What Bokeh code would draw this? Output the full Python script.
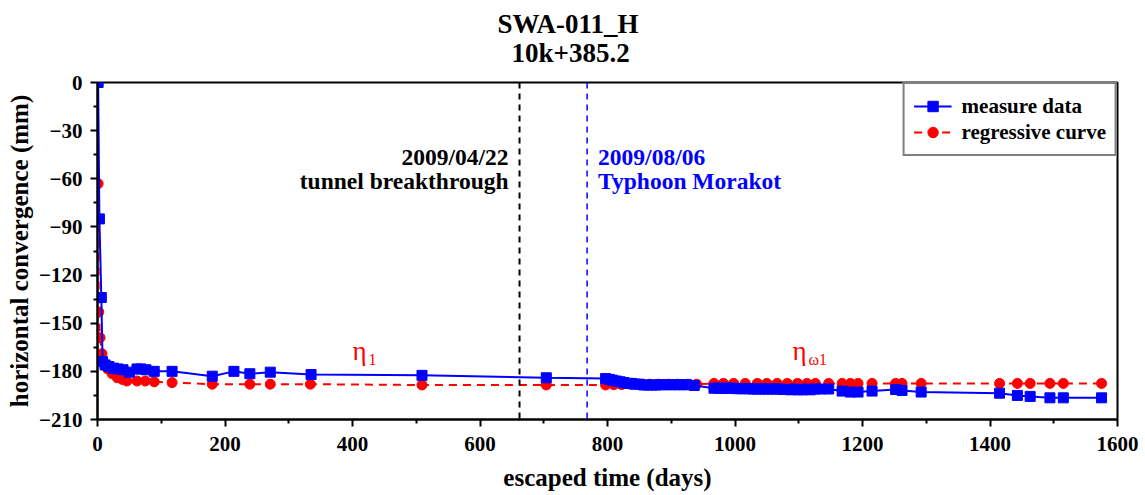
from bokeh.plotting import figure
from bokeh.layouts import column
from bokeh.models import Range1d, Label, Span, Legend, LegendItem, FixedTicker
from bokeh.embed import file_html
from bokeh.resources import INLINE

# ---------------- data ----------------
measure_days = [1, 3, 6, 8, 12, 18, 25, 32, 40, 50, 62, 68, 76, 89, 117, 180, 214, 239, 271, 335,
                509, 704, 797, 803, 808, 814, 820, 826, 832, 838, 844, 850, 857, 863, 870, 876,
                882, 888, 894, 900, 906, 912, 918, 924, 936, 967, 974, 980, 986, 992, 998, 1004,
                1010, 1016, 1022, 1028, 1034, 1040, 1046, 1052, 1058, 1064, 1070, 1076, 1082, 1088,
                1094, 1100, 1106, 1112, 1118, 1126, 1134, 1147, 1168, 1181, 1193, 1215, 1252, 1262,
                1292, 1415, 1443, 1463, 1494, 1515, 1575]
measure_mm = [0, -85, -134, -174, -176, -177, -178, -178.5, -179, -180.5, -178.5, -178.5, -179, -180,
              -180, -183, -180, -181.5, -180.5, -182, -182.5, -184, -184.5, -185, -185.5, -186,
              -186.5, -187, -187.5, -187.5, -188, -188, -188.5, -188.5, -188.5, -188.5, -188.3,
              -188.3, -188.3, -188.3, -188.3, -188.3, -188.3, -188.3, -188.8, -190.5, -190.5,
              -190.5, -190.5, -190.5, -190.5, -190.8, -190.8, -190.8, -190.8, -191, -191, -191,
              -191, -191, -191, -191, -191, -191.3, -191.3, -191.5, -191, -191.5, -191.5, -191,
              -191.5, -191, -191, -191, -192.3, -192.9, -192.9, -192.3, -191.3, -191.9, -192.9,
              -193.6, -195, -195.6, -196.5, -196.5, -196.5]

regress_days = [1, 2, 4, 7, 11, 16, 23, 31, 39, 46, 62, 75, 89, 117, 180, 239, 271, 334, 509, 704,
                797, 810, 822, 836, 850, 866, 880, 896, 910, 926, 940, 967, 982, 998, 1016, 1035,
                1050, 1066, 1082, 1098, 1113, 1126, 1147, 1168, 1181, 1193, 1215, 1252, 1262, 1292,
                1415, 1443, 1463, 1494, 1515, 1575]
regress_mm = [-63, -143, -159, -169, -175, -178.5, -181.5, -184, -185, -186,
              -186, -186, -186.5, -187, -188, -188, -188, -188, -188.5, -188.5,
              -188.5, -188.3, -188.2, -188, -188, -188, -188, -188, -188, -188,
              -188, -187.5, -187.5, -187.5, -187.5, -187.5, -187.5, -187.5, -187.5, -187.5,
              -187.5, -187.5, -187.5, -187.5, -187.5, -187.5, -187.5, -187.5, -187.5, -187.5,
              -187.5, -187.5, -187.5, -187.5, -187.5, -187.5]

x_ticks = [0, 200, 400, 600, 800, 1000, 1200, 1400, 1600]
y_ticks = [0, -30, -60, -90, -120, -150, -180, -210]

event_days = [662, 768]
event_dates = ["2009/04/22", "2009/08/06"]
event_names = ["tunnel breakthrough", "Typhoon Morakot"]
event_colors = ["black", "blue"]

title_lines = ["SWA-011_H", "10k+385.2"]
series_names = ["measure data", "regressive curve"]

FONT = "Liberation Serif"
W, H_TOP, H_MAIN = 1145, 68, 427
FRAME_L, FRAME_R = 97, 1117

# ---------------- title strip (its frame is aligned with the main frame) ----------------
t = figure(width=W, height=H_TOP, output_backend="svg", toolbar_location=None, title=None,
           x_range=Range1d(FRAME_L, FRAME_R), y_range=Range1d(H_TOP, 0),
           min_border_left=FRAME_L, min_border_right=W - FRAME_R, min_border_top=0,
           min_border_bottom=0, x_axis_location=None, y_axis_location=None,
           background_fill_color="white", border_fill_color="white")
t.outline_line_color = None
t.xgrid.visible = False
t.ygrid.visible = False
t.add_layout(Label(x=497, y=23, text=title_lines[0], text_align="left", text_baseline="middle",
                   text_font=FONT, text_font_style="bold", text_font_size="27px",
                   text_color="black"))
t.add_layout(Label(x=511, y=52, text=title_lines[1], text_align="left", text_baseline="middle",
                   text_font=FONT, text_font_style="bold", text_font_size="27px",
                   text_color="black"))

# ---------------- main figure ----------------
p = figure(width=W, height=H_MAIN, output_backend="svg", toolbar_location=None, title=None,
           x_range=Range1d(x_ticks[0], x_ticks[-1]), y_range=Range1d(y_ticks[-1], y_ticks[0]),
           min_border_left=FRAME_L, min_border_right=W - FRAME_R, min_border_top=14,
           min_border_bottom=76, background_fill_color="white", border_fill_color="white")

p.outline_line_color = "black"
p.outline_line_width = 2
p.xgrid.visible = False
p.ygrid.visible = False

x_minor = [(a + b) / 2 for a, b in zip(x_ticks[:-1], x_ticks[1:])]
y_minor = [(a + b) / 2 for a, b in zip(y_ticks[:-1], y_ticks[1:])]
p.xaxis.ticker = FixedTicker(ticks=x_ticks, minor_ticks=x_minor)
p.yaxis.ticker = FixedTicker(ticks=y_ticks, minor_ticks=y_minor)

for ax in (p.xaxis, p.yaxis):
    ax.axis_line_width = 2
    ax.major_tick_line_width = 2
    ax.minor_tick_line_width = 2
    ax.major_tick_out = 7
    ax.major_tick_in = 0
    ax.minor_tick_out = 4
    ax.minor_tick_in = 0
    ax.major_label_text_font = FONT
    ax.major_label_text_font_style = "bold"
    ax.major_label_text_font_size = "21px"
    ax.major_label_text_color = "black"
    ax.axis_label_text_font = FONT
    ax.axis_label_text_font_style = "bold"
    ax.axis_label_text_font_size = "25px"
    ax.axis_label_text_color = "black"

p.xaxis.axis_label = "escaped time (days)"
p.yaxis.axis_label = "horizontal convergence (mm)"
p.xaxis.major_label_standoff = 10
p.yaxis.major_label_standoff = 8
p.xaxis.axis_label_standoff = 10
p.yaxis.axis_label_standoff = 3

# ---------------- series ----------------
r_line = p.line(regress_days, regress_mm, line_color="red", line_width=2, line_dash="8 6")
r_pts = p.scatter(regress_days, regress_mm, marker="circle", size=10, fill_color="red", line_color="red")
b_line = p.line(measure_days, measure_mm, line_color="blue", line_width=2)
b_pts = p.scatter(measure_days, measure_mm, marker="square", size=10, fill_color="blue", line_color="blue")

# ---------------- event lines ----------------
widths = [2, 1.5]
for d, dt, nm, c, w in zip(event_days, event_dates, event_names, event_colors, widths):
    p.add_layout(Span(location=d, dimension="height", line_color=c, line_width=w, line_dash="6 5"))
    align = "right" if c == "black" else "left"
    off = -11 if c == "black" else 11
    p.add_layout(Label(x=d, y=-46.2, x_offset=off, text=dt, text_align=align, text_color=c,
                       text_font=FONT, text_font_style="bold", text_font_size="23.5px",
                       text_baseline="middle"))
    p.add_layout(Label(x=d, y=-61.3, x_offset=off, text=nm, text_align=align, text_color=c,
                       text_font=FONT, text_font_style="bold", text_font_size="23.5px",
                       text_baseline="middle"))

# ---------------- eta labels ----------------
for xd, sub in [(400, "1"), (1090, "ω1")]:
    p.add_layout(Label(x=xd, y=-167.6, text="η", text_color="red", text_font=FONT,
                       text_font_size="27px", text_baseline="middle"))
    p.add_layout(Label(x=xd, y=-172.9, x_offset=16, text=sub, text_color="red", text_font=FONT,
                       text_font_size="16px", text_baseline="middle"))

# ---------------- legend ----------------
legend = Legend(items=[LegendItem(label=series_names[0], renderers=[b_line, b_pts]),
                       LegendItem(label=series_names[1], renderers=[r_line, r_pts])],
                location="top_right", margin=0, padding=9, spacing=0,
                border_line_color="black", border_line_width=2,
                background_fill_color="white", background_fill_alpha=1,
                label_text_font=FONT, label_text_font_style="bold", label_text_font_size="21px",
                label_text_color="black",
                glyph_width=38, glyph_height=26, label_height=26, label_standoff=10)
p.add_layout(legend)

layout = column(t, p, spacing=0)
open("out.html", "w").write(file_html(layout, INLINE))
